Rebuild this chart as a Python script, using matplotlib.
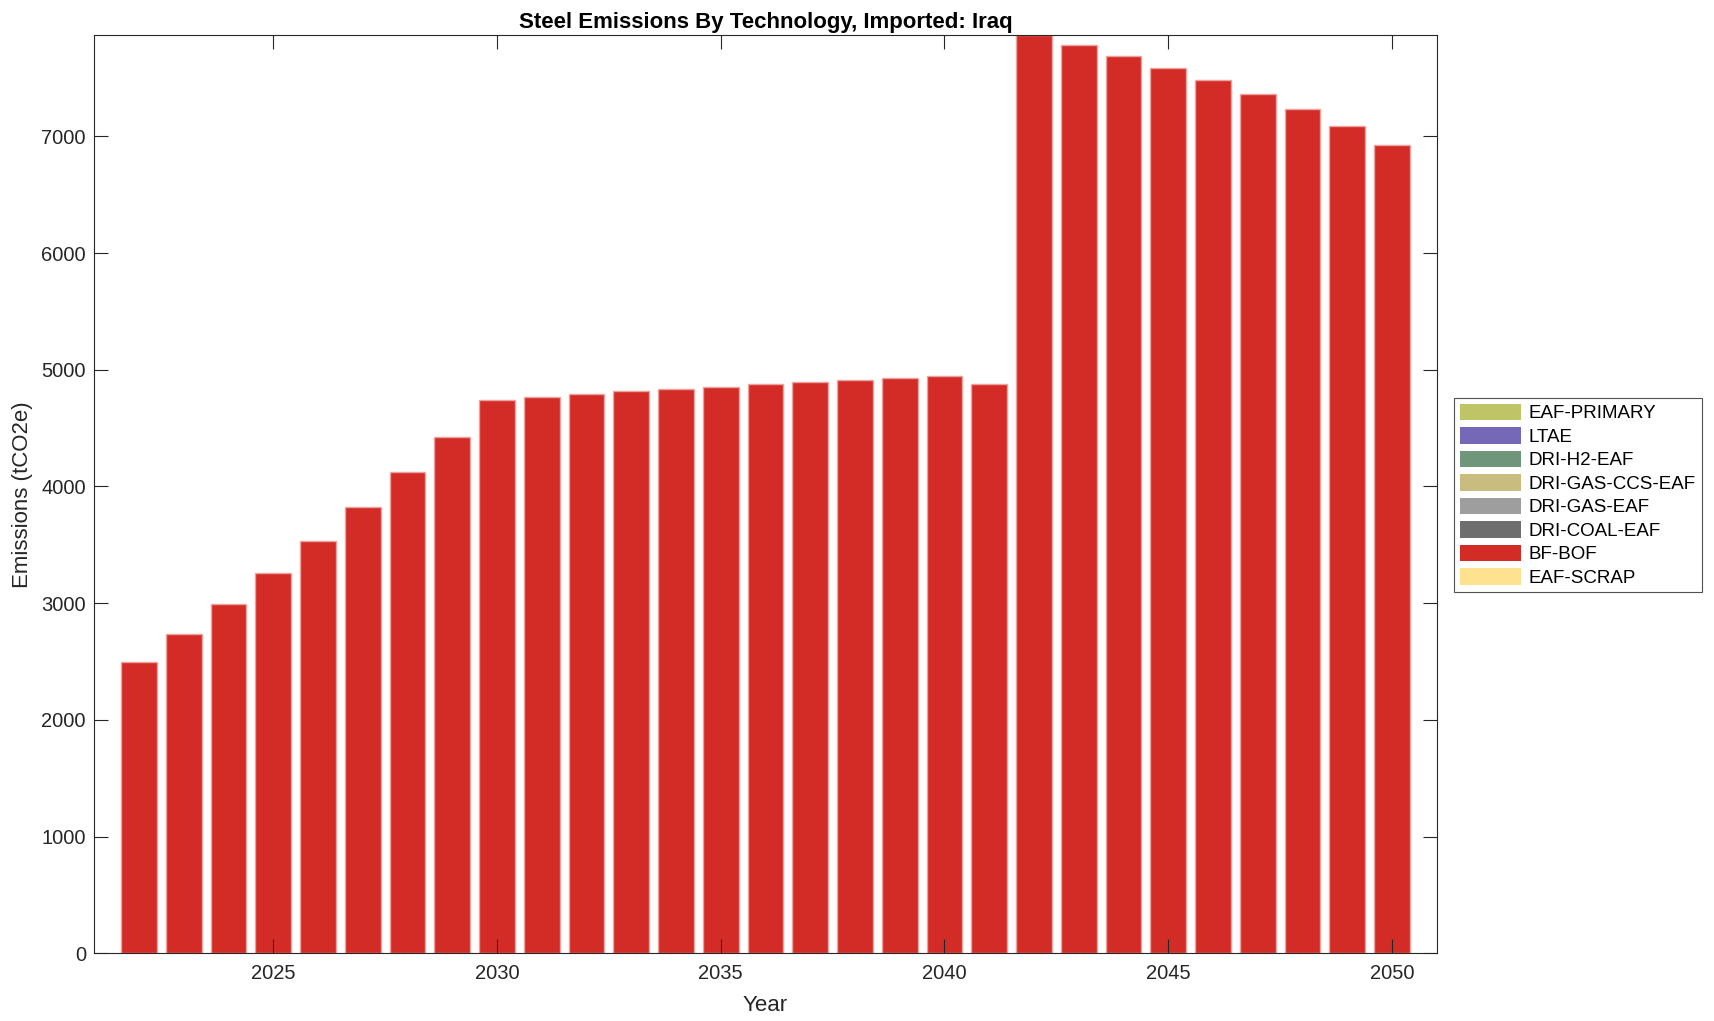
import matplotlib
matplotlib.use("Agg")
import matplotlib.pyplot as plt
import numpy as np
from matplotlib.patches import Patch

plt.rcParams['font.family'] = ['Liberation Sans', 'DejaVu Sans']

years = list(range(2022, 2051))
bf_bof = [2496, 2739, 2993, 3259, 3536, 3822, 4122, 4424, 4739, 4767,
          4795, 4815, 4835, 4855, 4878, 4893, 4910, 4927, 4947, 4878,
          7866, 7781, 7686, 7589, 7481, 7363, 7232, 7087, 6924]
zeros = [0] * len(years)

# stacking order bottom -> top
tech_names = ["EAF-SCRAP", "BF-BOF", "DRI-COAL-EAF", "DRI-GAS-EAF",
              "DRI-GAS-CCS-EAF", "DRI-H2-EAF", "LTAE", "EAF-PRIMARY"]
tech_colors = ["#fee290", "#d32b25", "#6e6e6e", "#9e9e9e",
               "#c8bd7e", "#6f967a", "#7468b7", "#bdc567"]
tech_values = {
    "EAF-SCRAP": zeros,
    "BF-BOF": bf_bof,
    "DRI-COAL-EAF": zeros,
    "DRI-GAS-EAF": zeros,
    "DRI-GAS-CCS-EAF": zeros,
    "DRI-H2-EAF": zeros,
    "LTAE": zeros,
    "EAF-PRIMARY": zeros,
}

fig = plt.figure(figsize=(17.14, 10.21), dpi=100)
ax = fig.add_axes([0.055, 0.0663, 0.7832, 0.8991])

bottom = np.zeros(len(years))
for name, col in zip(tech_names, tech_colors):
    vals = np.array(tech_values[name], dtype=float)
    has = vals.max() > 0
    ax.bar(years, vals, width=0.8, bottom=bottom, color=col,
           edgecolor="#eea3a0" if has else col,
           linewidth=1.0 if has else 0, label=name)
    bottom += vals

ax.set_xlim(2021, 2051)
ax.set_ylim(0, max(bf_bof))
ax.set_xticks([2025, 2030, 2035, 2040, 2045, 2050])
ax.set_yticks(range(0, 8000, 1000))
ax.tick_params(axis='both', direction='in', length=10, width=0.8,
               top=True, right=True, labelsize=14.5, colors='#262626',
               labelcolor='#262626', pad=6)
ax.tick_params(axis='x', pad=8)
for s in ax.spines.values():
    s.set_linewidth(0.8)
    s.set_color('#262626')

ax.set_title("Steel Emissions By Technology, Imported: Iraq",
             fontsize=16, fontweight='bold', pad=5)
ax.set_xlabel("Year", fontsize=16, color='#262626', labelpad=8)
ax.set_ylabel("Emissions (tCO2e)", fontsize=16, color='#262626', labelpad=6)

legend_order = ["EAF-PRIMARY", "LTAE", "DRI-H2-EAF", "DRI-GAS-CCS-EAF",
                "DRI-GAS-EAF", "DRI-COAL-EAF", "BF-BOF", "EAF-SCRAP"]
leg_handles = [Patch(facecolor=tech_colors[tech_names.index(n)],
                     edgecolor='none') for n in legend_order]
leg = fig.legend(leg_handles, legend_order, loc='center left',
                 bbox_to_anchor=(0.8483, 0.515), fontsize=13.5,
                 frameon=True, fancybox=False, edgecolor='#262626',
                 handlelength=3.3, handleheight=1.0, labelspacing=0.25,
                 handletextpad=0.4, borderpad=0.3, borderaxespad=0)
leg.get_frame().set_linewidth(0.8)

fig.savefig("out.png", dpi=100)
